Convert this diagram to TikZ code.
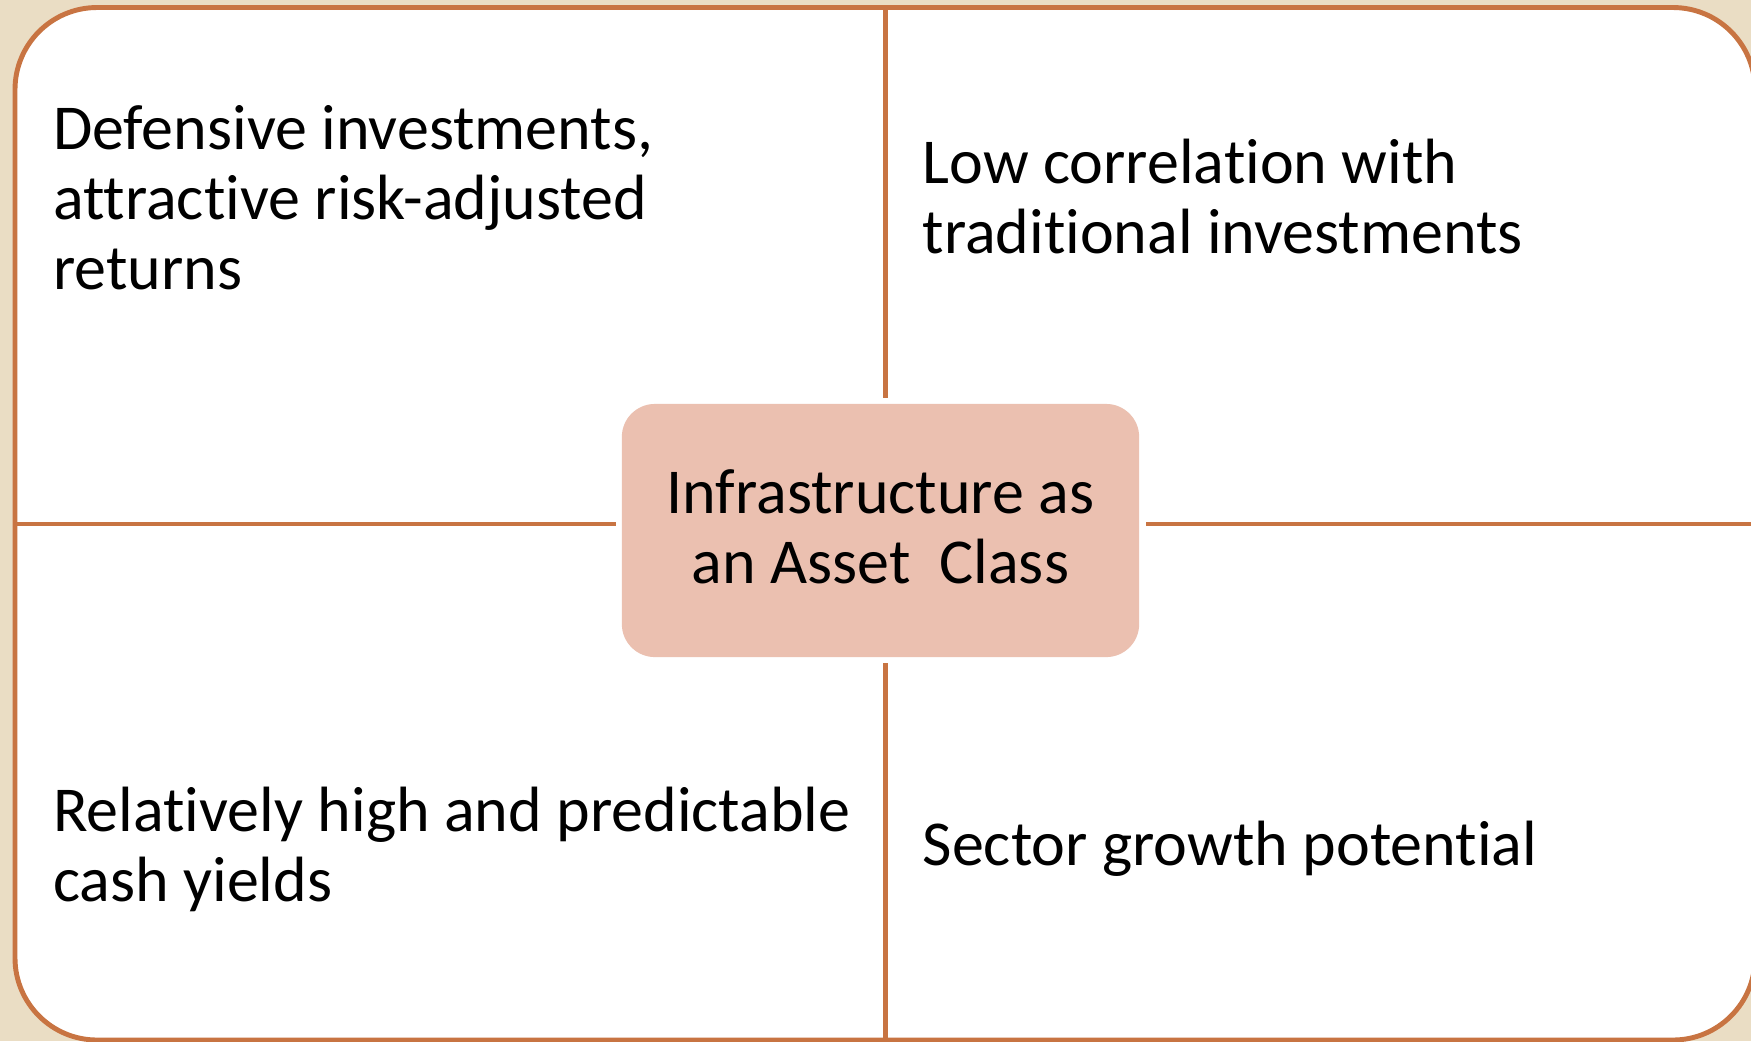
\documentclass[tikz,border=0pt]{standalone}
\usepackage{fontspec}
\setmainfont[Ligatures={NoCommon}]{Carlito}
\definecolor{bgbeige}{RGB}{234,221,196}
\definecolor{lineor}{RGB}{200,116,66}
\definecolor{boxpink}{RGB}{235,192,176}
\begin{document}
\begin{tikzpicture}[x=0.01cm,y=-0.01cm,
  quad/.style={anchor=base west,align=left,inner sep=0pt,font=\fontsize{18.2pt}{19.9pt}\selectfont},
  divider/.style={draw=lineor,line width=1.2pt},
  hub/.style={fill=boxpink,rounded corners=0.33cm,minimum width=5.17cm,minimum height=2.53cm,inner sep=0pt}]
\useasboundingbox (0,0) rectangle (1751,1041);
\clip (0,0) rectangle (1751,1041);
\fill[bgbeige] (0,0) rectangle (1751,1041);
\draw[lineor,fill=white,line width=1.4pt,rounded corners=0.82cm] (15,7.5) rectangle (1755,1040);
\node[hub] (c) at (880.5,530.5) {};
\coordinate (L) at (15,524);
\coordinate (R) at (1755,524);
\coordinate (T) at (885.5,7.5);
\coordinate (B) at (885.5,1040);
\draw[divider] (L) -- (616,524);
\draw[divider] (1146,524) -- (R);
\draw[divider] (T) -- (885.5,397.5);
\draw[divider] (885.5,663) -- (B);
\node[quad,anchor=base,align=center] (ct) at (880.5,583) {Infrastructure as\\an Asset\ \ Class};
\node[quad] (tl) at (52.5,289) {Defensive investments,\\attractive risk-adjusted\\returns};
\node[quad] (tr) at (922,253.5) {Low correlation with\\traditional investments};
\node[quad] (bl) at (52.5,901) {Relatively high and predictable\\cash yields};
\node[quad] (br) at (922,865) {Sector growth potential};
\end{tikzpicture}
\end{document}
